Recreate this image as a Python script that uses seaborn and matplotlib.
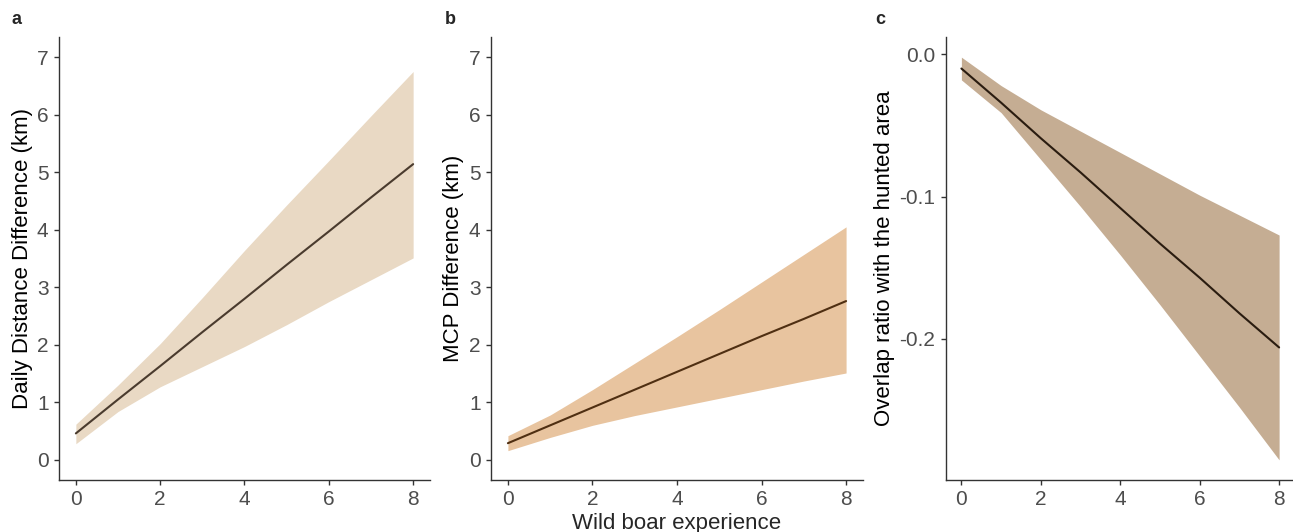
import numpy as np
import pandas as pd
import matplotlib
matplotlib.use('Agg')
import matplotlib.pyplot as plt
import seaborn as sns

# Data (predictions with confidence bands)
experience = [0, 1, 2, 3, 4, 5, 6, 7, 8]

dist_fit = [0.46, 1.05, 1.63, 2.22, 2.80, 3.39, 3.97, 4.56, 5.14]
dist_upper = [0.62, 1.30, 2.02, 2.82, 3.64, 4.43, 5.20, 5.98, 6.75]
dist_lower = [0.28, 0.84, 1.27, 1.62, 1.97, 2.35, 2.75, 3.13, 3.51]

mcp_fit = [0.29, 0.60, 0.91, 1.22, 1.53, 1.84, 2.15, 2.45, 2.76]
mcp_upper = [0.42, 0.78, 1.22, 1.68, 2.14, 2.61, 3.09, 3.57, 4.05]
mcp_lower = [0.16, 0.39, 0.60, 0.77, 0.92, 1.07, 1.22, 1.37, 1.51]

overlap_fit = [-0.010, -0.034, -0.059, -0.083, -0.108, -0.133, -0.157, -0.182, -0.206]
overlap_upper = [-0.002, -0.022, -0.039, -0.054, -0.069, -0.084, -0.099, -0.113, -0.127]
overlap_lower = [-0.018, -0.041, -0.074, -0.107, -0.141, -0.176, -0.212, -0.248, -0.285]

panel_letters = ['a', 'b', 'c']
y_titles = ['Daily Distance Difference (km)', 'MCP Difference (km)',
            'Overlap ratio with the hunted area']
x_title = 'Wild boar experience'

sns.set_style('ticks')
plt.rcParams['font.family'] = ['Liberation Sans', 'DejaVu Sans']

fig = plt.figure(figsize=(12.93, 5.32), dpi=100)
W, H = 1293, 532

# axes boxes in pixels: left, right
boxes = [(59, 430), (491, 863), (945.5, 1295)]
top, bottom = 37, 480

panels = [
    (dist_fit, dist_upper, dist_lower, '#e9d9c4', '#4a3b2e'),
    (mcp_fit, mcp_upper, mcp_lower, '#e8c49f', '#4f2f12'),
    (overlap_fit, overlap_upper, overlap_lower, '#c5ad93', '#2a1c10'),
]

grey = '#4d4d4d'
axes = []
for i, ((fit, up, lo, fill, line), (l, r)) in enumerate(zip(panels, boxes)):
    ax = fig.add_axes([l / W, (H - bottom) / H, (r - l) / W, (bottom - top) / H])
    axes.append(ax)
    df = pd.DataFrame({'x': experience, 'fit': fit, 'upper': up, 'lower': lo})
    ax.fill_between(df['x'], df['lower'], df['upper'], color=fill, linewidth=0)
    sns.lineplot(data=df, x='x', y='fit', ax=ax, color=line, linewidth=1.5)

    ax.set_xlim(-0.4, 8.4)
    ax.set_xticks([0, 2, 4, 6, 8])
    if i < 2:
        ax.set_ylim(-0.35, 7.35)
        ax.set_yticks(range(8))
    else:
        lo_v, hi_v = min(lo), max(up)
        pad = 0.05 * (hi_v - lo_v)
        ax.set_ylim(lo_v - pad, hi_v + pad)
        ax.set_yticks([0.0, -0.1, -0.2])
        ax.set_yticklabels(['0.0', '-0.1', '-0.2'])

    sns.despine(ax=ax)
    for s in ['left', 'bottom']:
        ax.spines[s].set_color('#333333')
        ax.spines[s].set_linewidth(1.0)
    ax.tick_params(axis='both', colors='#333333', labelcolor=grey,
                   labelsize=15, length=3.5, width=1.0, pad=4)
    ax.set_xlabel('')
    ax.set_ylabel(y_titles[i], fontsize=16, color='black')

# label anchor = right edge of the rotated text
for ax, px, (l, r) in zip(axes, [33, 464, 895], boxes):
    ax.yaxis.set_label_coords((px - l) / (r - l), 0.5)

for letter, px in zip(panel_letters, [17, 450, 880]):
    fig.text(px / W, 1 - 20 / H, letter, fontsize=13, fontweight='bold',
             ha='center', va='center')

fig.text(677 / W, (H - 529) / H, x_title, fontsize=16, ha='center', va='baseline')

fig.savefig('out.png', dpi=100)
